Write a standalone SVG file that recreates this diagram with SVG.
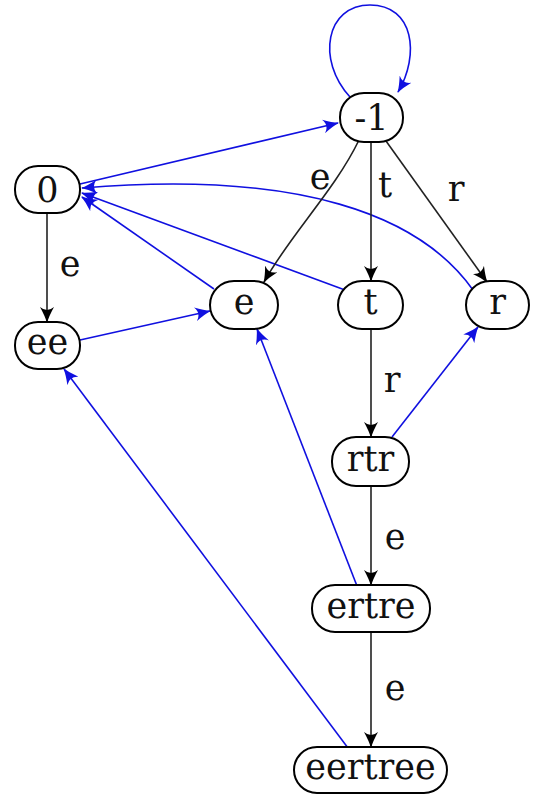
<svg xmlns="http://www.w3.org/2000/svg" width="534" height="794" viewBox="0 0 534 794">
<defs>
<marker id="ab" viewBox="0 0 16 14" refX="15" refY="7" markerWidth="16" markerHeight="14" markerUnits="userSpaceOnUse" orient="auto"><path d="M0,0 Q9,5 16,7 Q9,9 0,14 Q6,7 0,0 Z" fill="#000"/></marker>
<marker id="au" viewBox="0 0 16 14" refX="15" refY="7" markerWidth="16" markerHeight="14" markerUnits="userSpaceOnUse" orient="auto"><path d="M0,0 Q9,5 16,7 Q9,9 0,14 Q6,7 0,0 Z" fill="#1010e0"/></marker>
<style>
.n rect{fill:#fff;stroke:#000;stroke-width:2}
text{font-family:"DejaVu Serif","Liberation Serif",serif;font-size:35px;fill:#111;text-anchor:middle}
.k{fill:none;stroke:#222;stroke-width:1.6;marker-end:url(#ab)}
.b{fill:none;stroke:#1010e0;stroke-width:1.6;marker-end:url(#au)}
</style>
</defs>
<g id="edges">
<path class="b" d="M350,97 C316,60 326,5 370,5 C414,5 420,55 398,92"/>
<path class="b" d="M80,184 L338,123"/>
<path class="b" d="M214,289 L82,197"/>
<path class="b" d="M345,290 L82,193"/>
<path class="b" d="M473,290 C420,215 300,170 82,188"/>
<path class="b" d="M80,340 L210,311"/>
<path class="b" d="M392,437 L478,327"/>
<path class="b" d="M357,586 L257,329"/>
<path class="b" d="M348,748 L64,369"/>
<path class="k" d="M359,140 C335,190 290,235 264,282"/>
<path class="k" d="M371,142 L371,281"/>
<path class="k" d="M386,141 L487,282"/>
<path class="k" d="M47,213 L47,322"/>
<path class="k" d="M371,329 L371,437"/>
<path class="k" d="M371,486 L371,585"/>
<path class="k" d="M371,632 L371,747"/>
<text x="320" y="189">e</text>
<text x="385" y="197">t</text>
<text x="456" y="201">r</text>
<text x="70" y="276">e</text>
<text x="392" y="392">r</text>
<text x="395" y="549">e</text>
<text x="395" y="700">e</text>
</g>
<g id="nm1" class="n"><rect x="340" y="93" width="63" height="49" rx="24"/><text x="371.5" y="130">-1</text></g>
<g id="n0" class="n"><rect x="15" y="166" width="65" height="47" rx="23"/><text x="47.5" y="202">0</text></g>
<g id="nee" class="n"><rect x="15" y="322" width="65" height="47" rx="23"/><text x="47.5" y="354">ee</text></g>
<g id="ne" class="n"><rect x="210" y="281" width="68" height="48" rx="24"/><text x="244" y="314">e</text></g>
<g id="nt" class="n"><rect x="338" y="281" width="65" height="48" rx="24"/><text x="370.5" y="314">t</text></g>
<g id="nr" class="n"><rect x="466" y="281" width="63" height="48" rx="24"/><text x="497.5" y="314">r</text></g>
<g id="nrtr" class="n"><rect x="332" y="437" width="77" height="49" rx="24"/><text x="370.5" y="471">rtr</text></g>
<g id="nertre" class="n"><rect x="312" y="585" width="118" height="47" rx="23"/><text x="371" y="618">ertre</text></g>
<g id="neertree" class="n"><rect x="294" y="747" width="153" height="46" rx="23"/><text x="370.5" y="779">eertree</text></g>
</svg>
